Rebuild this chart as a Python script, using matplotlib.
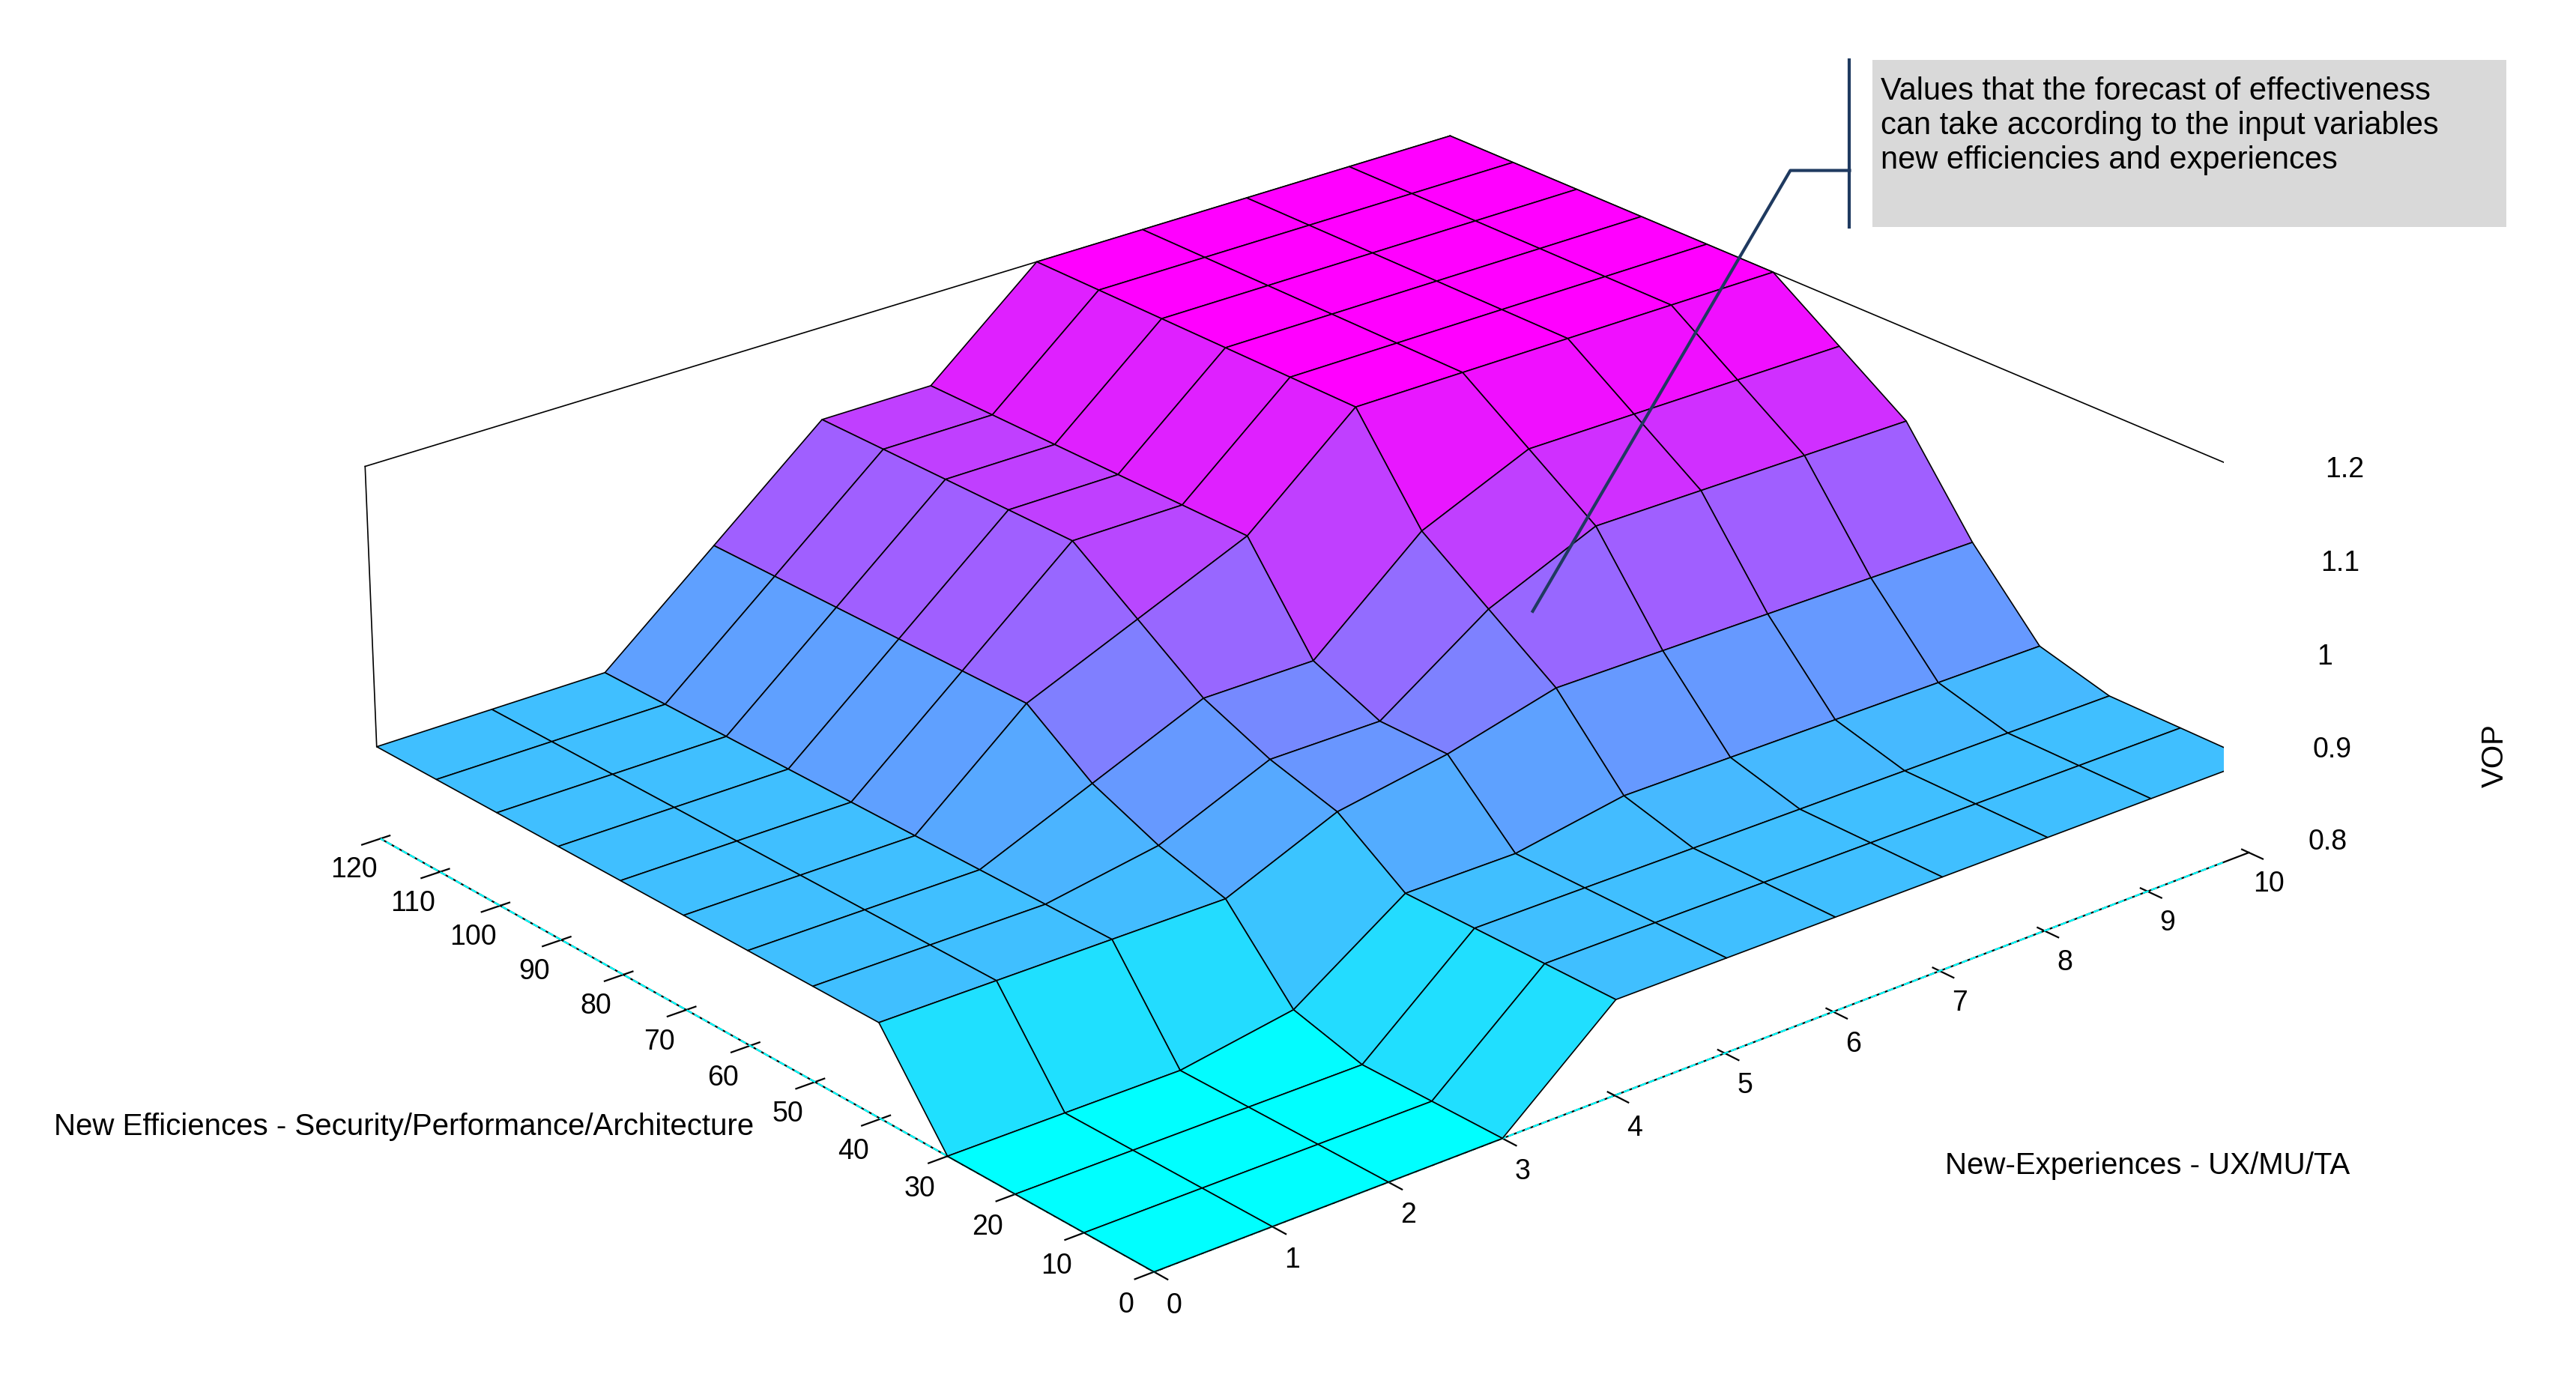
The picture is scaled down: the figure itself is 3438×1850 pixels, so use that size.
import numpy as np
import matplotlib
matplotlib.use("Agg")
import matplotlib.pyplot as plt

plt.rcParams['font.family'] = ['Liberation Sans', 'DejaVu Sans']

# Data
experiences = [0, 1, 2, 3, 4, 5, 6, 7, 8, 9, 10]
efficiencies = [0, 10, 20, 30, 40, 50, 60, 70, 80, 90, 100, 110, 120]
# rows: efficiencies, columns: experiences
vop = [
    [0.80, 0.80, 0.80, 0.80, 0.90, 0.90, 0.90, 0.90, 0.90, 0.90, 0.90],
    [0.80, 0.80, 0.80, 0.80, 0.90, 0.90, 0.90, 0.90, 0.90, 0.90, 0.90],
    [0.80, 0.80, 0.80, 0.80, 0.90, 0.90, 0.90, 0.90, 0.90, 0.90, 0.90],
    [0.80, 0.80, 0.80, 0.82, 0.90, 0.90, 0.92, 0.92, 0.92, 0.92, 0.92],
    [0.90, 0.90, 0.90, 0.90, 0.95, 0.97, 1.00, 1.00, 1.00, 1.00, 1.00],
    [0.90, 0.90, 0.90, 0.92, 0.97, 0.97, 1.05, 1.10, 1.10, 1.10, 1.10],
    [0.90, 0.90, 0.90, 0.95, 1.00, 1.00, 1.10, 1.15, 1.15, 1.15, 1.15],
    [0.90, 0.90, 0.90, 1.00, 1.05, 1.10, 1.20, 1.20, 1.20, 1.20, 1.20],
    [0.90, 0.90, 0.90, 1.00, 1.10, 1.10, 1.20, 1.20, 1.20, 1.20, 1.20],
    [0.90, 0.90, 0.90, 1.00, 1.10, 1.10, 1.20, 1.20, 1.20, 1.20, 1.20],
    [0.90, 0.90, 0.90, 1.00, 1.10, 1.10, 1.20, 1.20, 1.20, 1.20, 1.20],
    [0.90, 0.90, 0.90, 1.00, 1.10, 1.10, 1.20, 1.20, 1.20, 1.20, 1.20],
    [0.90, 0.90, 0.90, 1.00, 1.10, 1.10, 1.20, 1.20, 1.20, 1.20, 1.20],
]
z_ticks = [0.8, 0.9, 1.0, 1.1, 1.2]
z_tick_labels = ["0.8", "0.9", "1", "1.1", "1.2"]

X, Y = np.meshgrid(experiences, efficiencies)
Z = np.array(vop)

fig = plt.figure(figsize=(17.19, 9.25), dpi=200)
ax = fig.add_axes([-0.02, -0.17, 1.04, 1.35], projection='3d')
ax.plot_surface(X, Y, Z, cmap='cool', vmin=0.8, vmax=1.2, edgecolor='black',
                linewidth=0.6, shade=False, antialiased=True)
ax.set_xlim(0, 10)
ax.set_ylim(0, 120)
ax.set_zlim(0.8, 1.2)
ax.view_init(elev=24, azim=-130)
ax.set_box_aspect((1.15, 1.0, 0.33))

ax.set_xticks(experiences)
ax.set_yticks(efficiencies)
ax.set_zticks([])
ax.tick_params(labelsize=13.5, pad=3)
for a in (ax.xaxis, ax.yaxis, ax.zaxis):
    a.set_pane_color((1, 1, 1, 0))
    a.pane.set_edgecolor((1, 1, 1, 0))
    a._axinfo['grid']['color'] = (1, 1, 1, 0)
    a.line.set_color('black')
ax.zaxis.line.set_color((1, 1, 1, 0))
ax.grid(False)

# manual z ticks on the right vertical edge
for zt, zl in zip(z_ticks, z_tick_labels):
    ax.plot([10, 10.25], [0, 0], [zt, zt], color='black', linewidth=0.6)
    ax.text(10.45, -2, zt, zl, fontsize=13.5, ha='left', va='center')

# bounding box lines
k = dict(color='black', linewidth=0.6)
ax.plot([10, 10], [120, 120], [0.8, 1.2], **k)
ax.plot([0, 0], [120, 120], [0.9, 1.2], **k)
ax.plot([10, 10], [0, 0], [0.8, 1.2], **k)
ax.plot([0, 10], [120, 120], [1.2, 1.2], **k)
ax.plot([10, 10], [0, 120], [1.2, 1.2], **k)
ax.plot([0, 0], [0, 0], [0.8, 1.0], **k)
ax.plot([0, 0], [0, 120], [0.8, 0.8], color='cyan', linewidth=0.8, linestyle='--')
ax.plot([0, 10], [0, 0], [0.8, 0.8], color='cyan', linewidth=0.8, linestyle='--')

fig.text(0.021, 0.181, "New Efficiences - Security/Performance/Architecture", fontsize=14.5)
fig.text(0.755, 0.153, "New-Experiences - UX/MU/TA", fontsize=14.5)
fig.text(0.963, 0.455, "VOP", fontsize=14.5, rotation=90, va='center')

# annotation
fig.lines.append(plt.Line2D([0.595, 0.695, 0.718], [0.559, 0.877, 0.877],
                            transform=fig.transFigure, color='#1f3a60', linewidth=1.5))
fig.lines.append(plt.Line2D([0.718, 0.718], [0.836, 0.957],
                            transform=fig.transFigure, color='#1f3a60', linewidth=1.5))
fig.patches.append(plt.Rectangle((0.727, 0.836), 0.246, 0.121, transform=fig.transFigure,
                                 facecolor='#d9d9d9', edgecolor='none'))
fig.text(0.730, 0.945, "Values that the forecast of effectiveness\ncan take according to the input variables\nnew efficiencies and experiences",
         fontsize=15, va='top', linespacing=1.2)

fig.savefig("out.png", dpi=200, facecolor='white')
